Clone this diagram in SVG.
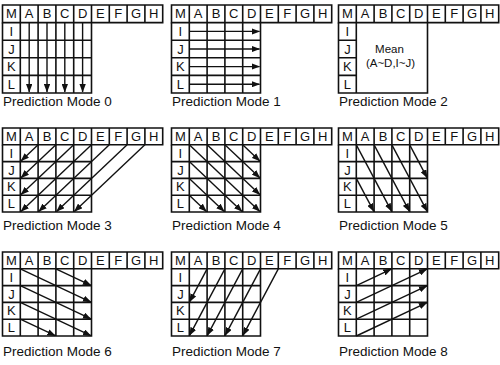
<svg xmlns="http://www.w3.org/2000/svg" width="500" height="365" viewBox="0 0 500 365">
<style>
.g{fill:none;stroke:#111;stroke-width:1.6}
.t{font-family:"Liberation Sans",Arial,sans-serif;font-size:13px;fill:#111;text-anchor:middle}
.m{font-family:"Liberation Sans",Arial,sans-serif;font-size:11.5px;fill:#111;text-anchor:middle}
.cap{font-family:"Liberation Sans",Arial,sans-serif;font-size:13.5px;fill:#111}
.a{fill:none;stroke:#111;stroke-width:1.4;marker-end:url(#ah)}
</style>
<defs>
<marker id="ah" viewBox="0 0 8 6" refX="7.5" refY="3" markerWidth="8.5" markerHeight="6.5" markerUnits="userSpaceOnUse" orient="auto"><path d="M0,0 L8,3 L0,6 z" fill="#111"/></marker>
<path id="topA" d="M0,0 H160.2 V17.6 H0 Z M17.8,0 V17.6 M35.6,0 V17.6 M53.4,0 V17.6 M71.2,0 V17.6 M89,0 V17.6 M106.8,0 V17.6 M124.6,0 V17.6 M142.4,0 V17.6"/>
<path id="bodyA" d="M0,17.6 V88 H89 V17.6 M0,35.2 H89 M0,52.8 H89 M0,70.4 H89 M17.8,17.6 V88 M35.6,17.6 V88 M53.4,17.6 V88 M71.2,17.6 V88"/>
<path id="topB" d="M0,0 H160.2 V16.8 H0 Z M17.8,0 V16.8 M35.6,0 V16.8 M53.4,0 V16.8 M71.2,0 V16.8 M89,0 V16.8 M106.8,0 V16.8 M124.6,0 V16.8 M142.4,0 V16.8"/>
<path id="bodyB" d="M0,16.8 V84 H89 V16.8 M0,33.6 H89 M0,50.4 H89 M0,67.2 H89 M17.8,16.8 V84 M35.6,16.8 V84 M53.4,16.8 V84 M71.2,16.8 V84"/>
</defs>
<rect width="500" height="365" fill="#fff"/>

<g id="mode0" transform="translate(2.5,5)">
<use href="#topA" class="g"/><use href="#bodyA" class="g"/>
<text class="t" x="8.9" y="13.3">M</text><text class="t" x="26.7" y="13.3">A</text><text class="t" x="44.5" y="13.3">B</text><text class="t" x="62.3" y="13.3">C</text><text class="t" x="80.1" y="13.3">D</text><text class="t" x="97.9" y="13.3">E</text><text class="t" x="115.7" y="13.3">F</text><text class="t" x="133.5" y="13.3">G</text><text class="t" x="151.3" y="13.3">H</text>
<text class="t" x="8.9" y="30.9">I</text><text class="t" x="8.9" y="48.5">J</text><text class="t" x="8.9" y="66.1">K</text><text class="t" x="8.9" y="83.7">L</text>
<text class="cap" x="0.5" y="100.5">Prediction Mode 0</text>
</g>

<g id="mode1" transform="translate(171.5,5)">
<use href="#topA" class="g"/><use href="#bodyA" class="g"/>
<text class="t" x="8.9" y="13.3">M</text><text class="t" x="26.7" y="13.3">A</text><text class="t" x="44.5" y="13.3">B</text><text class="t" x="62.3" y="13.3">C</text><text class="t" x="80.1" y="13.3">D</text><text class="t" x="97.9" y="13.3">E</text><text class="t" x="115.7" y="13.3">F</text><text class="t" x="133.5" y="13.3">G</text><text class="t" x="151.3" y="13.3">H</text>
<text class="t" x="8.9" y="30.9">I</text><text class="t" x="8.9" y="48.5">J</text><text class="t" x="8.9" y="66.1">K</text><text class="t" x="8.9" y="83.7">L</text>
<text class="cap" x="0.5" y="100.5">Prediction Mode 1</text>
</g>

<g id="mode2" transform="translate(338.5,5)">
<use href="#topA" class="g"/>
<path class="g" d="M0,17.6 V88 H89 V17.6 M0,35.2 H17.8 M0,52.8 H17.8 M0,70.4 H17.8 M17.8,17.6 V88"/>
<text class="t" x="8.9" y="13.3">M</text><text class="t" x="26.7" y="13.3">A</text><text class="t" x="44.5" y="13.3">B</text><text class="t" x="62.3" y="13.3">C</text><text class="t" x="80.1" y="13.3">D</text><text class="t" x="97.9" y="13.3">E</text><text class="t" x="115.7" y="13.3">F</text><text class="t" x="133.5" y="13.3">G</text><text class="t" x="151.3" y="13.3">H</text>
<text class="t" x="8.9" y="30.9">I</text><text class="t" x="8.9" y="48.5">J</text><text class="t" x="8.9" y="66.1">K</text><text class="t" x="8.9" y="83.7">L</text>
<text class="m" x="51" y="47.5">Mean</text>
<text class="m" x="52" y="62">(A~D,I~J)</text>
<text class="cap" x="0.5" y="100.5">Prediction Mode 2</text>
</g>

<g id="mode3" transform="translate(2.5,128)">
<use href="#topB" class="g"/><use href="#bodyB" class="g"/>
<text class="t" x="8.9" y="12.9">M</text><text class="t" x="26.7" y="12.9">A</text><text class="t" x="44.5" y="12.9">B</text><text class="t" x="62.3" y="12.9">C</text><text class="t" x="80.1" y="12.9">D</text><text class="t" x="97.9" y="12.9">E</text><text class="t" x="115.7" y="12.9">F</text><text class="t" x="133.5" y="12.9">G</text><text class="t" x="151.3" y="12.9">H</text>
<text class="t" x="8.9" y="29.7">I</text><text class="t" x="8.9" y="46.5">J</text><text class="t" x="8.9" y="63.3">K</text><text class="t" x="8.9" y="80.1">L</text>
<text class="cap" x="0.5" y="102">Prediction Mode 3</text>
</g>

<g id="mode4" transform="translate(171.5,128)">
<use href="#topB" class="g"/><use href="#bodyB" class="g"/>
<text class="t" x="8.9" y="12.9">M</text><text class="t" x="26.7" y="12.9">A</text><text class="t" x="44.5" y="12.9">B</text><text class="t" x="62.3" y="12.9">C</text><text class="t" x="80.1" y="12.9">D</text><text class="t" x="97.9" y="12.9">E</text><text class="t" x="115.7" y="12.9">F</text><text class="t" x="133.5" y="12.9">G</text><text class="t" x="151.3" y="12.9">H</text>
<text class="t" x="8.9" y="29.7">I</text><text class="t" x="8.9" y="46.5">J</text><text class="t" x="8.9" y="63.3">K</text><text class="t" x="8.9" y="80.1">L</text>
<text class="cap" x="0.5" y="102">Prediction Mode 4</text>
</g>

<g id="mode5" transform="translate(338.5,128)">
<use href="#topB" class="g"/><use href="#bodyB" class="g"/>
<text class="t" x="8.9" y="12.9">M</text><text class="t" x="26.7" y="12.9">A</text><text class="t" x="44.5" y="12.9">B</text><text class="t" x="62.3" y="12.9">C</text><text class="t" x="80.1" y="12.9">D</text><text class="t" x="97.9" y="12.9">E</text><text class="t" x="115.7" y="12.9">F</text><text class="t" x="133.5" y="12.9">G</text><text class="t" x="151.3" y="12.9">H</text>
<text class="t" x="8.9" y="29.7">I</text><text class="t" x="8.9" y="46.5">J</text><text class="t" x="8.9" y="63.3">K</text><text class="t" x="8.9" y="80.1">L</text>
<text class="cap" x="0.5" y="102">Prediction Mode 5</text>
</g>

<g id="mode6" transform="translate(2.5,252)">
<use href="#topB" class="g"/><use href="#bodyB" class="g"/>
<text class="t" x="8.9" y="12.9">M</text><text class="t" x="26.7" y="12.9">A</text><text class="t" x="44.5" y="12.9">B</text><text class="t" x="62.3" y="12.9">C</text><text class="t" x="80.1" y="12.9">D</text><text class="t" x="97.9" y="12.9">E</text><text class="t" x="115.7" y="12.9">F</text><text class="t" x="133.5" y="12.9">G</text><text class="t" x="151.3" y="12.9">H</text>
<text class="t" x="8.9" y="29.7">I</text><text class="t" x="8.9" y="46.5">J</text><text class="t" x="8.9" y="63.3">K</text><text class="t" x="8.9" y="80.1">L</text>
<text class="cap" x="0.5" y="104">Prediction Mode 6</text>
</g>

<g id="mode7" transform="translate(171.5,252)">
<use href="#topB" class="g"/><use href="#bodyB" class="g"/>
<text class="t" x="8.9" y="12.9">M</text><text class="t" x="26.7" y="12.9">A</text><text class="t" x="44.5" y="12.9">B</text><text class="t" x="62.3" y="12.9">C</text><text class="t" x="80.1" y="12.9">D</text><text class="t" x="97.9" y="12.9">E</text><text class="t" x="115.7" y="12.9">F</text><text class="t" x="133.5" y="12.9">G</text><text class="t" x="151.3" y="12.9">H</text>
<text class="t" x="8.9" y="29.7">I</text><text class="t" x="8.9" y="46.5">J</text><text class="t" x="8.9" y="63.3">K</text><text class="t" x="8.9" y="80.1">L</text>
<text class="cap" x="0.5" y="104">Prediction Mode 7</text>
</g>

<g id="mode8" transform="translate(338.5,252)">
<use href="#topB" class="g"/><use href="#bodyB" class="g"/>
<text class="t" x="8.9" y="12.9">M</text><text class="t" x="26.7" y="12.9">A</text><text class="t" x="44.5" y="12.9">B</text><text class="t" x="62.3" y="12.9">C</text><text class="t" x="80.1" y="12.9">D</text><text class="t" x="97.9" y="12.9">E</text><text class="t" x="115.7" y="12.9">F</text><text class="t" x="133.5" y="12.9">G</text><text class="t" x="151.3" y="12.9">H</text>
<text class="t" x="8.9" y="29.7">I</text><text class="t" x="8.9" y="46.5">J</text><text class="t" x="8.9" y="63.3">K</text><text class="t" x="8.9" y="80.1">L</text>
<text class="cap" x="0.5" y="104">Prediction Mode 8</text>
</g>

<g id="connectors">
<g transform="translate(2.5,5)">
<line class="a" x1="26.7" y1="17.6" x2="26.7" y2="87"/>
<line class="a" x1="44.5" y1="17.6" x2="44.5" y2="87"/>
<line class="a" x1="62.3" y1="17.6" x2="62.3" y2="87"/>
<line class="a" x1="80.1" y1="17.6" x2="80.1" y2="87"/>
</g>
<g transform="translate(171.5,5)">
<line class="a" x1="17.8" y1="26.4" x2="88" y2="26.4"/>
<line class="a" x1="17.8" y1="44" x2="88" y2="44"/>
<line class="a" x1="17.8" y1="61.6" x2="88" y2="61.6"/>
<line class="a" x1="17.8" y1="79.2" x2="88" y2="79.2"/>
</g>
<g transform="translate(2.5,128)">
<line class="a" x1="35.6" y1="16.8" x2="18.5" y2="33"/>
<line class="a" x1="53.4" y1="16.8" x2="18.5" y2="49.8"/>
<line class="a" x1="71.2" y1="16.8" x2="18.5" y2="66.6"/>
<line class="a" x1="89" y1="16.8" x2="18.5" y2="83.4"/>
<line class="a" x1="106.8" y1="16.8" x2="36.3" y2="83.4"/>
<line class="a" x1="124.6" y1="16.8" x2="54.1" y2="83.4"/>
<line class="a" x1="142.4" y1="16.8" x2="71.9" y2="83.4"/>
</g>
<g transform="translate(171.5,128)">
<line class="a" x1="17.8" y1="16.8" x2="88.3" y2="83.4"/>
<line class="a" x1="35.6" y1="16.8" x2="88.3" y2="66.6"/>
<line class="a" x1="53.4" y1="16.8" x2="88.3" y2="49.8"/>
<line class="a" x1="71.2" y1="16.8" x2="88.3" y2="33"/>
<line class="a" x1="17.8" y1="33.6" x2="70.5" y2="83.4"/>
<line class="a" x1="17.8" y1="50.4" x2="52.7" y2="83.4"/>
<line class="a" x1="17.8" y1="67.2" x2="34.9" y2="83.4"/>
</g>
<g transform="translate(338.5,128)">
<line class="a" x1="17.8" y1="16.8" x2="53.1" y2="83.4"/>
<line class="a" x1="35.6" y1="16.8" x2="70.9" y2="83.4"/>
<line class="a" x1="53.4" y1="16.8" x2="88.7" y2="83.4"/>
<line class="a" x1="71.2" y1="16.8" x2="88.7" y2="49.8"/>
<line class="a" x1="17.8" y1="50.4" x2="35.3" y2="83.4"/>
</g>
<g transform="translate(2.5,252)">
<line class="a" x1="17.8" y1="16.8" x2="88.4" y2="50.1"/>
<line class="a" x1="17.8" y1="33.6" x2="88.4" y2="66.9"/>
<line class="a" x1="17.8" y1="50.4" x2="88.4" y2="83.7"/>
<line class="a" x1="17.8" y1="67.2" x2="52.8" y2="83.7"/>
<line class="a" x1="53.4" y1="16.8" x2="88.4" y2="33.3"/>
</g>
<g transform="translate(171.5,252)">
<line class="a" x1="35.6" y1="16.8" x2="18.1" y2="49.8"/>
<line class="a" x1="53.4" y1="16.8" x2="18.1" y2="83.4"/>
<line class="a" x1="71.2" y1="16.8" x2="35.9" y2="83.4"/>
<line class="a" x1="89" y1="16.8" x2="53.7" y2="83.4"/>
<line class="a" x1="106.8" y1="16.8" x2="71.5" y2="83.4"/>
</g>
<g transform="translate(338.5,252)">
<line class="a" x1="17.8" y1="33.6" x2="52.8" y2="17.1"/>
<line class="a" x1="17.8" y1="50.4" x2="88.4" y2="17.1"/>
<line class="a" x1="17.8" y1="67.2" x2="88.4" y2="33.9"/>
<line class="a" x1="17.8" y1="84" x2="88.4" y2="50.7"/>
</g>
</g>
</svg>
